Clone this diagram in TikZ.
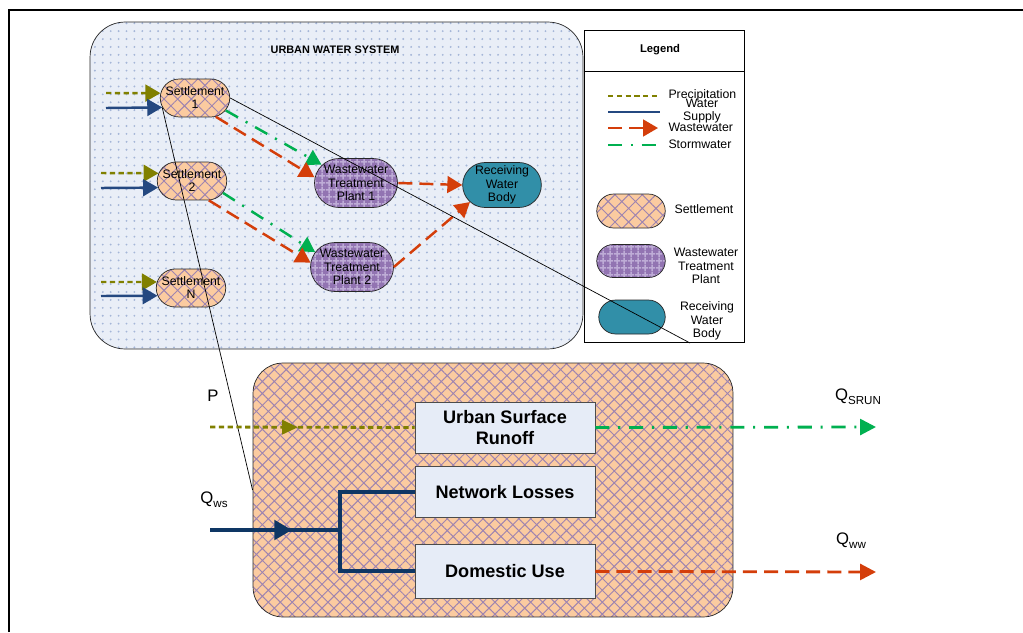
\documentclass[tikz,border=0pt]{standalone}
\usepackage{fontspec}
\setmainfont{Liberation Sans}
\usetikzlibrary{arrows.meta, positioning, calc}
\usetikzlibrary{shapes.misc, patterns.meta}
\usetikzlibrary{decorations.markings}

\definecolor{peach}{RGB}{251,203,160}
\definecolor{hatchcol}{RGB}{158,132,176}
\definecolor{plantcol}{RGB}{146,116,178}
\definecolor{plantgrid}{RGB}{190,172,214}
\definecolor{rivercol}{RGB}{49,143,168}
\definecolor{skycol}{RGB}{233,238,247}
\definecolor{dotcol}{RGB}{165,182,216}
\definecolor{boxcol}{RGB}{230,236,247}
\definecolor{olivecol}{RGB}{128,128,0}
\definecolor{supplycol}{RGB}{36,72,128}
\definecolor{navycol}{RGB}{14,54,100}
\definecolor{wastecol}{RGB}{212,62,10}
\definecolor{stormcol}{RGB}{0,176,80}

\begin{document}
\begin{tikzpicture}[x=0.02cm, y=-0.02cm, >={Triangle[length=8.5pt,width=9.5pt]}, semithick]

\useasboundingbox (0,0) rectangle (1023,632);

%====Stili nodi===============================================================

	\tikzstyle{settl}=[rounded rectangle, draw=black!85, thin, minimum width=1.46cm, minimum height=0.76cm, inner sep=1pt, align=center, preaction={fill=peach}, pattern={Hatch[angle=45,distance=5.5pt,line width=0.55pt]}, pattern color=hatchcol, font=\fontsize{7}{7.4}\selectfont]
	\tikzstyle{plant}=[rounded rectangle, draw=black!85, thin, minimum width=1.6cm, minimum height=0.98cm, inner sep=1pt, align=center, preaction={fill=plantcol}, pattern={Hatch[angle=0,distance=4pt,line width=0.9pt]}, pattern color=plantgrid, font=\fontsize{7}{7.6}\selectfont]
	\tikzstyle{river}=[rounded rectangle, draw=black!85, thin, fill=rivercol, minimum width=1.5cm, minimum height=0.9cm, inner sep=1pt, align=center, font=\fontsize{7}{7.6}\selectfont]
	\tikzstyle{procbox}=[rectangle, draw=black!70, thin, fill=boxcol, minimum width=3.6cm, minimum height=1.02cm, align=center, font=\fontsize{10.3}{12}\bfseries]
	\tikzstyle{txt}=[inner sep=0pt, align=center, font=\fontsize{7}{7.6}\selectfont]

%====Stili frecce=============================================================

	\tikzstyle{precip}=[olivecol, line width=1.4pt, dash pattern=on 3pt off 2pt]
	\tikzstyle{supply}=[supplycol, line width=1.4pt]
	\tikzstyle{waste}=[wastecol, line width=1.4pt, dash pattern=on 8pt off 4pt]
	\tikzstyle{storm}=[stormcol, line width=1.4pt, dash pattern=on 8pt off 5pt on 1.2pt off 5pt]
	\tikzstyle{supplyL}=[navycol, line width=2.3pt]
	\tikzset{arrowat/.style={postaction={decorate}, decoration={markings, mark=at position #1 with {\arrow{>}}}}}

%====Cornice==================================================================

	\draw[line width=1.6pt] (9,632) -- (9,10) -- (1023,10);

%====Sistema idrico urbano====================================================

	\node[draw=black!85, thin, rounded corners=0.7cm, minimum width=9.86cm, minimum height=6.54cm, preaction={fill=skycol}, pattern={Dots[distance=4.5pt,radius=0.6pt]}, pattern color=dotcol] (uws) at (336.5,185.5) {};
	\node[font=\fontsize{6.2}{7}\bfseries] (uwsT) at (335,50) {URBAN WATER SYSTEM};

	\node[settl] 	(s1) at (195,98)	{Settlement\\1};
	\node[settl] 	(s2) at (192,181)	{Settlement\\2};
	\node[settl] 	(sN) at (191,288)	{Settlement\\N};
	\node[plant] 	(w1) at (356,183)	{Wastewater\\Treatment\\Plant 1};
	\node[plant] 	(w2) at (352,267)	{Wastewater\\Treatment\\Plant 2};
	\node[river] 	(rwb) at (502,185)	{Receiving\\Water\\Body};

	\coordinate (p1) at (106,93);
	\coordinate (q1) at (106,108);
	\coordinate (p2) at (101,173);
	\coordinate (q2) at (101,188);
	\coordinate (pN) at (101,282);
	\coordinate (qN) at (101,296);

%====Legenda==================================================================

	\node[draw, thin, fill=white, minimum width=3.2cm, minimum height=6.24cm] (leg) at (664,186) {};
	\draw[thin] ($(leg.north west)+(0,42)$) -- ($(leg.north east)+(0,42)$);
	\node[font=\fontsize{6.4}{7}\bfseries] (legT) at (660,50) {Legend};

	\draw[precip] (608,96) -- (660,96);
	\draw[supply] (608,112) -- (660,112);
	\draw[waste,->] (608,128) -- (658,128);
	\draw[storm] (608,145) -- (660,145);
	\node[txt, anchor=west] (lp) at (668,95) {Precipitation};
	\node[txt] (ls) at (702,111) {Water\\[-0.5pt]Supply};
	\node[txt, anchor=west] (lw) at (668,127) {Wastewater};
	\node[txt, anchor=west] (lst) at (668,144) {Stormwater};

	\node[settl, minimum width=1.44cm, minimum height=0.68cm] (ks) at (631,211) {};
	\node[plant, minimum width=1.44cm, minimum height=0.66cm] (kw) at (631,261) {};
	\node[river, minimum width=1.4cm, minimum height=0.68cm] (kr) at (632,317) {};
	\node[txt] (kst) at (704,209) {Settlement};
	\node[txt] (kwt) at (706,266) {Wastewater\\Treatment\\Plant};
	\node[txt] (krt) at (707,321) {Receiving\\Water\\Body};

%====Dettaglio insediamento===================================================

	\node[draw=black!85, thin, rounded corners=0.6cm, minimum width=9.6cm, minimum height=5.08cm, preaction={fill=peach}, pattern={Hatch[angle=45,distance=4.8pt,line width=0.55pt]}, pattern color=hatchcol] (urb) at (493,490) {};

	\node[procbox] 	(usr) at (505,427.5)	{Urban Surface\\Runoff};
	\node[procbox] 	(nl) [below=0.26cm of usr]	{Network Losses};
	\node[procbox, minimum height=1.08cm] 	(du) [below=0.52cm of nl]	{Domestic Use};

	\coordinate (pin) at (210,427);
	\coordinate (qin) at (210,530);
	\coordinate (jn) at (340,530);
	\coordinate (qsr) at (876,427);
	\coordinate (qww) at (876,572);
	\coordinate (zA) at (690,343);

	\node[font=\fontsize{9.5}{10}\selectfont] (lP) at (213,396) {P};
	\node[font=\fontsize{9.5}{10}\selectfont] (lQws) at (214,500) {Q\raisebox{-0.45ex}{\fontsize{6.6}{7}\selectfont ws}};
	\node[font=\fontsize{9.5}{10}\selectfont] (lQsr) at (858,397) {Q\raisebox{-0.45ex}{\fontsize{6.6}{7}\selectfont SRUN}};
	\node[font=\fontsize{9.5}{10}\selectfont] (lQww) at (851,541) {Q\raisebox{-0.45ex}{\fontsize{6.6}{7}\selectfont ww}};

%====Collegamenti=============================================================
	      %from      stile                  to
	\path 	(p1)	edge[precip,->]		(s1.172)
		(q1)	edge[supply,->]		(s1.196)
		(p2)	edge[precip,->]		(s2.167)
		(q2)	edge[supply,->]		(s2.191)
		(pN)	edge[precip,->]		(sN.170)
		(qN)	edge[supply,->]		(sN.193)
		(s1.-22)	edge[storm,->]		(w1.152)
		(s1.-42)	edge[waste,->]		(w1.172)
		(s2.-21)	edge[storm,->]		(w2.158)
		(s2.-49)	edge[waste,->]		(w2.174)
		(w1.east)	edge[waste,->]		(rwb.west)
		(w2.east)	edge[waste,->]		(rwb.208);

	\draw[thin] (s1.east) -- (zA);
	\draw[thin] (s1.196) -- (urb.west);

	\draw[precip, line width=1.6pt, arrowat=0.43, >={Triangle[length=9pt,width=8pt]}] (pin) -- (usr.west);
	\draw[supplyL, arrowat=0.63, >={Triangle[length=10pt,width=11pt]}] (qin) -- (jn);
	\draw[supplyL] (nl.west) -| (jn) |- (du.west);
	\draw[storm, line width=1.6pt, ->, >={Triangle[length=9pt,width=9pt]}] (usr.east) -- (qsr);
	\draw[waste, line width=1.6pt, ->, >={Triangle[length=9pt,width=9pt]}] (du.east) -- (qww);

\end{tikzpicture}
\end{document}
